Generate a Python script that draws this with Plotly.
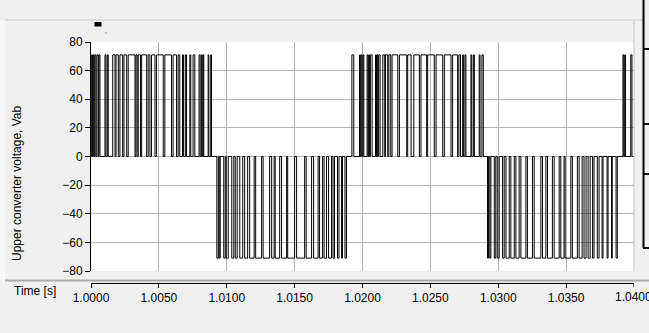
import plotly.graph_objects as go

# ---------------- data (switching edge times in ms after t = 1.0000 s) -------------
amplitude = 71.0
half_signs = [1, -1, 1, -1, 1]
edges_ms = [
    [0.05, 0.11, 0.17, 0.24, 0.29, 0.37, 0.44, 0.54, 0.59, 0.66, 1.03, 1.10, 1.20, 1.27,
     1.60, 1.77, 1.84, 2.01, 2.13, 2.33, 2.43, 2.63, 2.74, 3.24, 3.31, 3.40, 3.48, 3.65,
     3.73, 4.10, 4.21, 4.34, 4.46, 4.71, 4.83, 5.32, 5.44, 5.93, 6.05, 6.30, 6.42, 6.54,
     6.74, 6.82, 6.95, 7.04, 7.28, 7.35, 7.52, 7.65, 7.96, 8.04, 8.13, 8.20, 8.26, 8.31,
     8.63, 8.68, 8.82, 8.88],
    [9.27, 9.38, 9.45, 9.52, 9.78, 9.89, 9.96, 10.11, 10.37, 10.52, 10.63, 10.77, 10.96,
     11.18, 11.32, 11.54, 11.69, 12.02, 12.13, 12.57, 12.68, 13.16, 13.31, 13.49, 13.57,
     13.90, 14.04, 14.41, 14.49, 15.00, 15.15, 15.74, 15.85, 16.25, 16.40, 16.73, 16.84,
     17.06, 17.17, 17.35, 17.50, 17.72, 17.83, 17.94, 18.16, 18.27, 18.46, 18.53, 18.71,
     18.82],
    [19.22, 19.36, 19.78, 19.84, 19.90, 19.96, 20.03, 20.10, 20.34, 20.41, 20.46, 20.52,
     20.58, 20.71, 20.96, 21.03, 21.08, 21.13, 21.19, 21.30, 21.50, 21.64, 21.69, 21.86,
     21.94, 22.08, 22.18, 22.60, 22.72, 23.26, 23.33, 23.58, 23.78, 24.19, 24.31, 24.73,
     24.80, 25.29, 25.42, 25.91, 26.03, 26.52, 26.64, 27.01, 27.10, 27.22, 27.38, 27.45,
     27.55, 27.62, 27.99, 28.05, 28.17, 28.24, 28.60, 28.66, 28.80, 28.90],
    [29.21, 29.29, 29.38, 29.46, 29.71, 29.82, 29.93, 30.07, 30.32, 30.44, 30.57, 30.81,
     30.93, 31.18, 31.30, 31.54, 31.67, 32.04, 32.15, 32.52, 32.65, 33.14, 33.26, 33.51,
     33.63, 33.99, 34.12, 34.49, 34.61, 34.85, 34.93, 35.35, 35.46, 35.83, 35.96, 36.18,
     36.32, 36.47, 36.62, 36.77, 36.95, 37.06, 37.30, 37.43, 37.65, 37.72, 38.02, 38.09,
     38.35, 38.40, 38.68, 38.77],
    [39.19, 39.25, 39.32, 39.38, 39.76, 39.85],
]
t_start = 1.0
t_end = 1.04
x_ticks = [1.0000, 1.0050, 1.0100, 1.0150, 1.0200, 1.0250, 1.0300, 1.0350, 1.0400]
y_ticks = [-80, -60, -40, -20, 0, 20, 40, 60, 80]

# ---------------- build step waveform ----------------
xs = [t_start]
ys = [0.0]
for sign, edges in zip(half_signs, edges_ms):
    for i in range(0, len(edges), 2):
        r = t_start + edges[i] / 1000.0
        f = t_start + edges[i + 1] / 1000.0
        xs += [r, r, f, f]
        ys += [0.0, sign * amplitude, sign * amplitude, 0.0]
xs.append(t_end)
ys.append(0.0)

# ---------------- geometry helpers (pixel -> paper) ----------------
W, H = 649, 333
L, R, T, B = 91, 15, 42, 50
PW = W - L - R
PH = H - T - B
plot_bottom_px = 271


def px(xp):
    return (xp - L) / PW


def py(yp):
    return (H - B - yp) / PH


FONT = "Liberation Sans, Arial, sans-serif"
GRID = "#b4b4b4"
x_range = [t_start, t_end + 2e-6]
tick_labels = [f"{v:.4f}" for v in x_ticks]

fig = go.Figure()
fig.add_trace(go.Scatter(x=xs, y=ys, mode="lines",
                         line=dict(color="black", width=1),
                         showlegend=False, hoverinfo="skip"))
fig.add_trace(go.Scatter(x=[t_start, t_end], y=[0, 0], mode="none", xaxis="x2",
                         showlegend=False, hoverinfo="skip"))

shapes = []
shapes.append(dict(type="rect", xref="paper", yref="paper", x0=px(0), x1=px(5),
                   y0=py(280), y1=py(20), fillcolor="#f8f8f8", line=dict(width=0), layer="below"))
shapes.append(dict(type="line", xref="paper", yref="paper", x0=px(5), x1=px(643),
                   y0=py(20), y1=py(20), line=dict(color="#c8c8c8", width=1)))
shapes.append(dict(type="line", xref="paper", yref="paper", x0=px(634), x1=px(634),
                   y0=py(21), y1=py(plot_bottom_px), line=dict(color="#c4c4c4", width=1)))
shapes.append(dict(type="line", xref="paper", yref="paper", x0=px(5), x1=px(649),
                   y0=py(280.5), y1=py(280.5), line=dict(color="#a8a8a8", width=2)))
# last x tick mark (plotly drops the edge label)
shapes.append(dict(type="line", xref="x", yref="paper", x0=x_ticks[-1], x1=x_ticks[-1],
                   y0=py(283), y1=py(287), line=dict(color="black", width=1)))
shapes.append(dict(type="rect", xref="paper", yref="paper", x0=px(94.5), x1=px(101.5),
                   y0=py(26.5), y1=py(22), fillcolor="black", line=dict(width=0)))
shapes.append(dict(type="rect", xref="paper", yref="paper", x0=px(105.5), x1=px(106.5),
                   y0=py(33.5), y1=py(32.5), fillcolor="#555555", line=dict(width=0)))
shapes.append(dict(type="line", xref="paper", yref="paper", x0=px(643.5), x1=px(643.5),
                   y0=py(0), y1=py(248), line=dict(color="black", width=2)))
for yy in [49, 124, 174, 248]:
    shapes.append(dict(type="line", xref="paper", yref="paper", x0=px(643), x1=px(650),
                       y0=py(yy), y1=py(yy), line=dict(color="black", width=2)))

annotations = [
    dict(text="Upper converter voltage, Vab", xref="paper", yref="paper",
         x=px(17), y=py(183), textangle=-90, showarrow=False,
         font=dict(family=FONT, size=12, color="black"), xanchor="center", yanchor="middle"),
    dict(text="Time [s]", xref="paper", yref="paper", x=px(12), y=py(291),
         showarrow=False, font=dict(family=FONT, size=12, color="black"),
         xanchor="left", yanchor="middle"),
    dict(text=tick_labels[-1], xref="x", yref="paper", x=x_ticks[-1], y=py(297),
         showarrow=False, font=dict(family=FONT, size=12, color="black"),
         xanchor="center", yanchor="middle"),
]

fig.update_layout(
    width=W, height=H,
    margin=dict(l=L, r=R, t=T, b=B, pad=0),
    paper_bgcolor="#f0f0f0",
    plot_bgcolor="white",
    font=dict(family=FONT, size=12, color="black"),
    showlegend=False,
    shapes=shapes,
    annotations=annotations,
    xaxis=dict(range=x_range, tickvals=x_ticks, showticklabels=False,
               showgrid=True, gridcolor=GRID, gridwidth=1, zeroline=False,
               showline=False, ticks="", automargin=False),
    xaxis2=dict(range=x_range, overlaying="x", anchor="free", position=0,
                side="bottom", tickvals=x_ticks[:-1], ticktext=tick_labels[:-1],
                showgrid=False, zeroline=False, showline=True, linecolor="black",
                linewidth=1, ticks="outside", ticklen=4, tickcolor="black",
                tickfont=dict(family=FONT, size=12, color="black"), automargin=False),
    yaxis=dict(range=[-80, 80], tickvals=y_ticks, domain=[py(plot_bottom_px), 1],
               showgrid=True, gridcolor=GRID, gridwidth=1, zeroline=False,
               showline=True, linecolor="black", linewidth=1, ticks="outside",
               ticklen=5, tickcolor="black",
               tickfont=dict(family=FONT, size=12, color="black"), automargin=False),
)

fig.write_html("out.html", config={"displayModeBar": False},
               post_script="document.body.style.margin='0';document.body.style.overflow='hidden';")
